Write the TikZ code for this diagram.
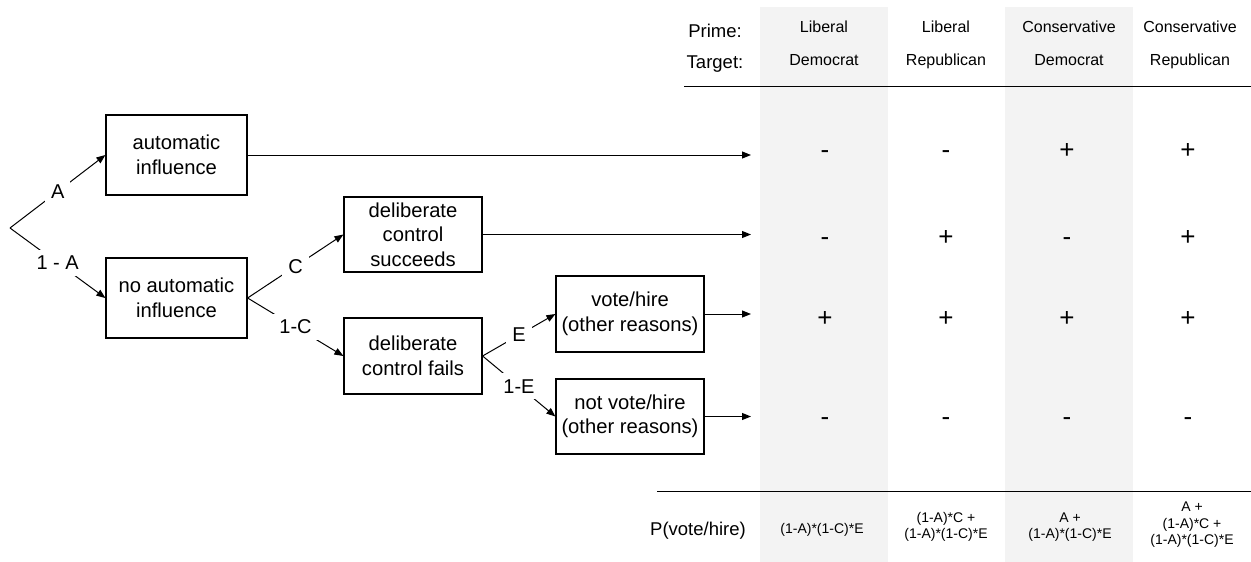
\documentclass[tikz,border=0pt]{standalone}
\usepackage{fontspec}
\setmainfont{Liberation Sans}
\usetikzlibrary{arrows.meta}
\definecolor{colgrey}{RGB}{243,243,243}

\tikzset{
  box/.style={draw, line width=1.2pt, align=center, inner sep=0pt, font=\fontsize{20.2}{24.5}\selectfont},
  branch/.style={fill=white, inner sep=6pt, font=\fontsize{20}{24}\selectfont},
  arr/.style={line width=1pt, -{Triangle[length=9pt,width=7pt]}},
  sign/.style={anchor=base, font=\fontsize{26}{30}\selectfont},
  rowhead/.style={anchor=base, font=\fontsize{18.5}{22}\selectfont},
  colhead/.style={anchor=base, font=\fontsize{16}{19}\selectfont},
  prob/.style={align=center, inner sep=0pt, font=\fontsize{14}{16.5}\selectfont},
}

\begin{document}
\begin{tikzpicture}[x=1pt,y=-1pt]
  \useasboundingbox (0,0) rectangle (1251,562);

  % shaded columns
  \fill[colgrey] (760,7) rectangle (888,562);
  \fill[colgrey] (1005,7) rectangle (1133,562);

  % rules under the heading and above the probabilities
  \draw[line width=1pt] (684,86) -- (1251,86);
  \draw[line width=1pt] (657,491) -- (1251,491);

  % row labels
  \node[rowhead] (prime) at (715,37) {Prime:};
  \node[rowhead] (target) at (715,68) {Target:};
  \node[rowhead] (pvote) at (698,535) {P(vote/hire)};

  % column headings
  \foreach \x/\p/\t [count=\i] in {824/Liberal/Democrat, 946/Liberal/Republican, 1069/Conservative/Democrat, 1190/Conservative/Republican}{
    \node[colhead] (prime\i) at (\x,32) {\p};
    \node[colhead] (target\i) at (\x,65) {\t};
  }

  % the decision tree
  \coordinate (root) at (10,228);
  \coordinate (tip) at (751,0);

  \node[box, minimum width=141pt, minimum height=80pt] (auto) at (176.5,155) {automatic\\influence};
  \node[box, minimum width=141pt, minimum height=80pt] (noauto) at (176.5,298) {no automatic\\influence};
  \node[box, minimum width=138pt, minimum height=75pt] (succ) at (413,234.5) {deliberate\\control\\succeeds};
  \node[box, minimum width=138pt, minimum height=76pt] (fail) at (413,356) {deliberate\\control fails};
  \node[box, minimum width=148pt, minimum height=76pt] (vote) at (630,314) {vote/hire\\(other reasons)};
  \node[box, minimum width=148pt, minimum height=75pt] (novote) at (630,416.5) {not vote/hire\\(other reasons)};

  % branches with their probabilities
  \draw[arr] (root) -- node[branch] (la) {A} (auto.west);
  \draw[arr] (root) -- node[branch] (lna) {1 - A} (noauto.west);
  \draw[arr] (noauto.east) -- node[branch] (lc) {C} (succ.west);
  \draw[arr] (noauto.east) -- node[branch] (lnc) {1-C} (fail.west);
  \draw[arr] (fail.east) -- node[branch] (le) {E} (vote.west);
  \draw[arr] (fail.east) -- node[branch] (lne) {1-E} (novote.west);

  % outcomes into the table
  \draw[arr] (auto.east) -- (auto.east -| tip);
  \draw[arr] (succ.east) -- (succ.east -| tip);
  \draw[arr] (vote.east) -- (vote.east -| tip);
  \draw[arr] (novote.east) -- (novote.east -| tip);

  % signs
  \foreach \y/\a/\b/\c/\d [count=\r] in {158/-/-/+/+, 245/-/+/-/+, 326/+/+/+/+, 425/-/-/-/-}{
    \node[sign] (s\r-1) at (825,\y) {\a};
    \node[sign] (s\r-2) at (946,\y) {\b};
    \node[sign] (s\r-3) at (1067,\y) {\c};
    \node[sign] (s\r-4) at (1188,\y) {\d};
  }

  % probabilities of vote/hire
  \node[prob] (p1) at (822,530) {(1-A)*(1-C)*E};
  \node[prob] (p2) at (946,527) {(1-A)*C +\\(1-A)*(1-C)*E};
  \node[prob] (p3) at (1070,527) {A +\\(1-A)*(1-C)*E};
  \node[prob] (p4) at (1192,525) {A +\\(1-A)*C +\\(1-A)*(1-C)*E};
\end{tikzpicture}
\end{document}
